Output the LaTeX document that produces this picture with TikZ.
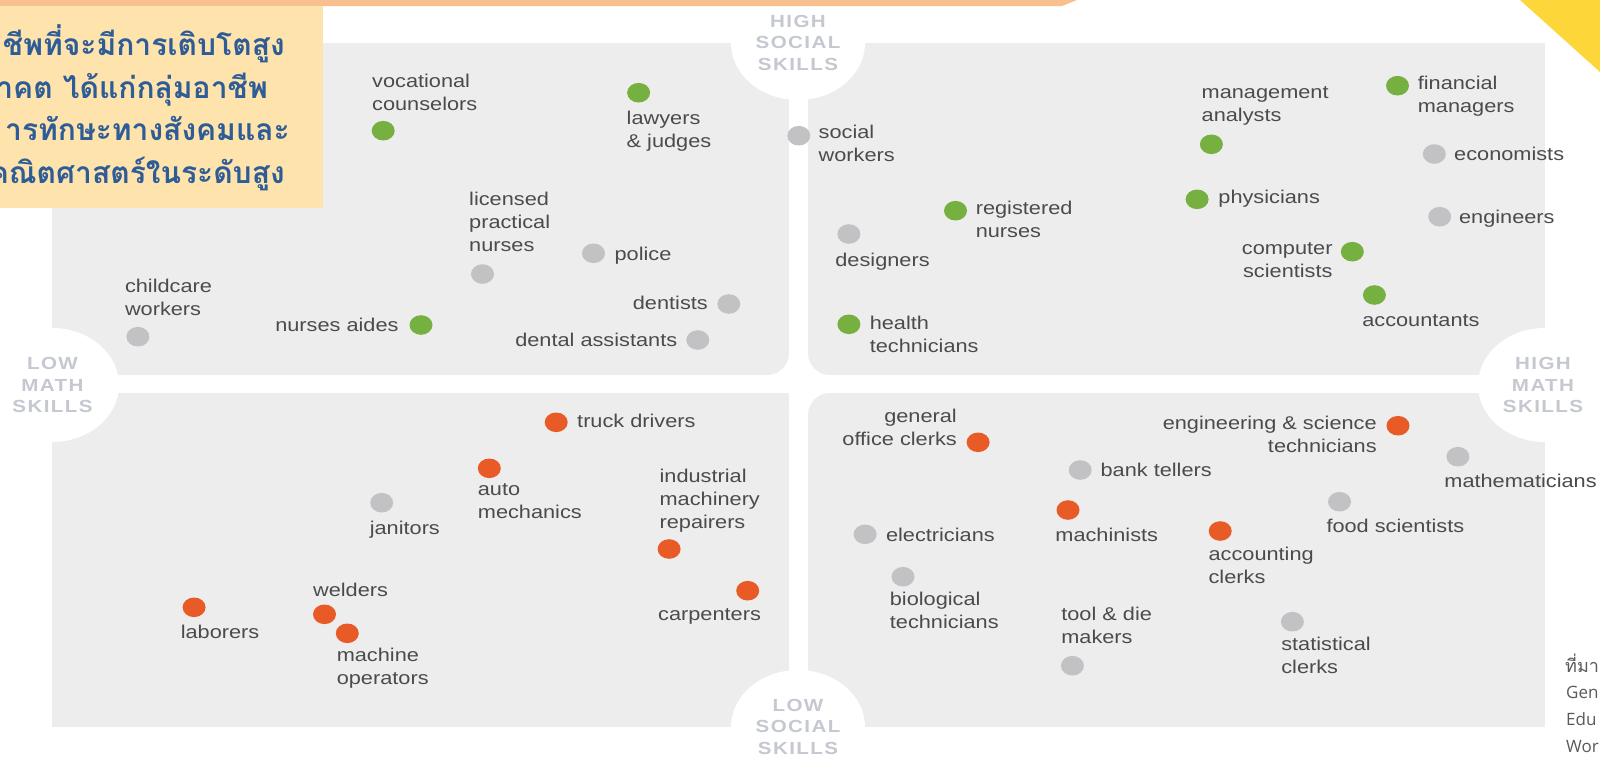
\documentclass[tikz,border=0pt]{standalone}
\usepackage{fontspec}
\setmainfont{Liberation Sans}
\newfontfamily\labfont[FakeStretch=1.175]{Liberation Sans}
\newfontfamily\axfont[FakeStretch=1.175,LetterSpace=8]{Liberation Sans}
\newfontfamily\thaifont[Script=Thai]{Loma}
\newfontfamily\srcfont{Open Sans}
\usetikzlibrary{shapes.geometric}
\definecolor{quadgray}{HTML}{EDEDED}
\definecolor{dgreen}{HTML}{76B041}
\definecolor{dgray}{HTML}{C2C2C4}
\definecolor{dorange}{HTML}{E85A26}
\definecolor{txt}{HTML}{4B4B4D}
\definecolor{axtxt}{HTML}{C5C8D0}
\definecolor{boxyellow}{HTML}{FFE3AD}
\definecolor{barorange}{HTML}{F8C08E}
\definecolor{thaiblue}{HTML}{2E5C96}
\definecolor{triyellow}{HTML}{FDD73A}
\definecolor{srctxt}{HTML}{5A5A5A}
\begin{document}
\begin{tikzpicture}[x=1pt,y=-1pt,
  quad/.style={fill=quadgray},
  dotbase/.style={ellipse, minimum width=23pt, minimum height=19.6pt, inner sep=0pt},
  gdot/.style={dotbase, fill=dgreen},
  sdot/.style={dotbase, fill=dgray},
  odot/.style={dotbase, fill=dorange},
  lab/.style={font=\labfont\fontsize{18.5}{23}\selectfont, text=txt, inner sep=0pt,
    align=left, anchor=north west, yshift=16.1pt, execute at begin node=\strut},
  labr/.style={lab, align=right, anchor=north east},
  axlab/.style={font=\axfont\bfseries\fontsize{17.5}{21.5}\selectfont, text=axtxt,
    align=center, inner sep=0pt},
  thai/.style={font=\thaifont\bfseries\fontsize{30}{43}\selectfont, text=thaiblue,
    inner sep=0pt, anchor=base east},
  src/.style={text=srctxt, inner sep=0pt, anchor=base west}
]
\useasboundingbox (0,0) rectangle (1600,756);
\fill[white] (0,0) rectangle (1600,756);

% quadrants (inner corners rounded)
\fill[quad] (52,43) rectangle (767,375);
\fill[quad] (52,43) rectangle (789,353);
\fill[quad] (767,353) circle[radius=22pt];
\fill[quad] (830,43) rectangle (1545,375);
\fill[quad] (808,43) rectangle (1545,353);
\fill[quad] (830,353) circle[radius=22pt];
\fill[quad] (52,415) rectangle (767,727);
\fill[quad] (52,393) rectangle (789,727);
\fill[quad] (767,415) circle[radius=22pt];
\fill[quad] (830,393) rectangle (1545,727);
\fill[quad] (808,415) rectangle (1545,727);
\fill[quad] (830,415) circle[radius=22pt];

% white axis ellipses
\fill[white] (798,43) ellipse[x radius=67pt, y radius=57pt];
\fill[white] (798,727) ellipse[x radius=67pt, y radius=57pt];
\fill[white] (52,385) ellipse[x radius=67pt, y radius=57pt];
\fill[white] (1545,385) ellipse[x radius=67pt, y radius=57pt];

\node[axlab] (hs) at (798,42.5) {HIGH\\SOCIAL\\SKILLS};
\node[axlab] (ls) at (798,726.5) {LOW\\SOCIAL\\SKILLS};
\node[axlab] (lm) at (52.5,385) {LOW\\MATH\\SKILLS};
\node[axlab] (hm) at (1543,385) {HIGH\\MATH\\SKILLS};

% header decorations
\fill[barorange] (0,0) -- (1077,0) -- (1062,6) -- (0,6) -- cycle;
\fill[boxyellow] (0,6) rectangle (323,208);
\fill[triyellow] (1520,0) -- (1600,0) -- (1600,72) -- cycle;

\node[thai] (t1) at (285,55) {ชีพที่จะมีการเติบโตสูง};
\node[thai] (t2) at (268,98.3) {าคต ได้แก่กลุ่มอาชีพ};
\node[thai] (t3) at (290,140) {ารทักษะทางสังคมและ};
\node[thai] (t4) at (285,183.3) {คณิตศาสตร์ในระดับสูง};

% top-left quadrant
\node[gdot] (vc) at (383.2,130.7) {};
\node[lab] (vcl) at (372,90) {vocational\\counselors};
\node[gdot] (lj) at (638.6,92.7) {};
\node[lab] (ljl) at (626.5,127.3) {lawyers\\\& judges};
\node[sdot] (lpn) at (482.5,274) {};
\node[lab] (lpnl) at (469,208.3) {licensed\\practical\\nurses};
\node[sdot] (pol) at (593.5,253.3) {};
\node[lab] (poll) at (614.4,260) {police};
\node[sdot] (cw) at (137.9,336.7) {};
\node[lab] (cwl) at (124.8,295) {childcare\\workers};
\node[gdot] (na) at (421,325) {};
\node[labr] (nal) at (398.7,331.7) {nurses aides};
\node[sdot] (den) at (728.8,304) {};
\node[labr] (denl) at (708,309.3) {dentists};
\node[sdot] (da) at (697.8,340) {};
\node[labr] (dal) at (677.4,346.7) {dental assistants};

% top-right quadrant
\node[sdot] (sw) at (798.8,135.7) {};
\node[lab] (swl) at (818.5,140.7) {social\\workers};
\node[sdot] (des) at (848.9,234) {};
\node[lab] (desl) at (835.2,266.7) {designers};
\node[gdot] (rn) at (955.5,210.7) {};
\node[lab] (rnl) at (975.6,217.3) {registered\\nurses};
\node[gdot] (ht) at (848.9,324.3) {};
\node[lab] (htl) at (869.6,331.7) {health\\technicians};
\node[gdot] (ma) at (1211.4,144.3) {};
\node[lab] (mal) at (1201.5,102.7) {management\\analysts};
\node[gdot] (ph) at (1197.1,199.3) {};
\node[lab] (phl) at (1218.2,203.3) {physicians};
\node[gdot] (fm) at (1397.5,85.7) {};
\node[lab] (fml) at (1417.6,91.7) {financial\\managers};
\node[sdot] (eco) at (1434.3,154) {};
\node[lab] (ecol) at (1454,160) {economists};
\node[sdot] (eng) at (1439.7,216.7) {};
\node[lab] (engl) at (1458.9,223.3) {engineers};
\node[gdot] (cs) at (1352.3,251.7) {};
\node[labr] (csl) at (1332.7,258.3) {computer\\scientists};
\node[gdot] (acc) at (1374.4,295) {};
\node[lab] (accl) at (1362.1,326) {accountants};

% bottom-left quadrant
\node[odot] (td) at (556.2,422.3) {};
\node[lab] (tdl) at (577,427.7) {truck drivers};
\node[odot] (am) at (489.3,468.3) {};
\node[lab] (aml) at (477.7,499) {auto\\mechanics};
\node[sdot] (jan) at (381.7,502.7) {};
\node[lab] (janl) at (369.6,534.3) {janitors};
\node[odot] (imr) at (669.1,549) {};
\node[lab] (imrl) at (659.4,485) {industrial\\machinery\\repairers};
\node[odot] (car) at (747.7,590.7) {};
\node[lab] (carl) at (658,620.7) {carpenters};
\node[odot] (labo) at (194.1,607.3) {};
\node[lab] (labol) at (180.6,638.3) {laborers};
\node[odot] (wel) at (324.5,614.3) {};
\node[lab] (well) at (312.9,596) {welders};
\node[odot] (mo) at (347.3,633.3) {};
\node[lab] (mol) at (336.6,664) {machine\\operators};

% bottom-right quadrant
\node[odot] (goc) at (978.1,442.3) {};
\node[labr] (gocl) at (957,425) {general\\office clerks};
\node[odot] (est) at (1398,425.7) {};
\node[labr] (estl) at (1376.9,431.7) {engineering \& science\\technicians};
\node[sdot] (bt) at (1080.2,470) {};
\node[lab] (btl) at (1100.4,476.7) {bank tellers};
\node[sdot] (mat) at (1457.9,456.7) {};
\node[lab] (matl) at (1444.2,487.3) {mathematicians};
\node[odot] (mac) at (1068,510) {};
\node[lab] (macl) at (1055.2,541.7) {machinists};
\node[sdot] (ele) at (865.1,534.3) {};
\node[lab] (elel) at (885.8,541) {electricians};
\node[odot] (acl) at (1220.2,531) {};
\node[lab] (acll) at (1208.4,562.7) {accounting\\clerks};
\node[sdot] (fs) at (1339.5,501.7) {};
\node[lab] (fsl) at (1326.3,532.7) {food scientists};
\node[sdot] (bio) at (903,576.7) {};
\node[lab] (biol) at (889.7,608.3) {biological\\technicians};
\node[sdot] (tdm) at (1072.4,665.7) {};
\node[lab] (tdml) at (1061.1,623.3) {tool \& die\\makers};
\node[sdot] (sc) at (1292.4,621.7) {};
\node[lab] (scl) at (1281.1,652.7) {statistical\\clerks};

% source note
\node[src, font=\thaifont\fontsize{18}{22}\selectfont] (s1) at (1565,672) {ที่มา};
\node[src, font=\srcfont\fontsize{17}{22}\selectfont] (s2) at (1566,698) {Gen};
\node[src, font=\srcfont\fontsize{17}{22}\selectfont] (s3) at (1566,725) {Edu};
\node[src, font=\srcfont\fontsize{17}{22}\selectfont] (s4) at (1566,752) {Wor};
\end{tikzpicture}
\end{document}
